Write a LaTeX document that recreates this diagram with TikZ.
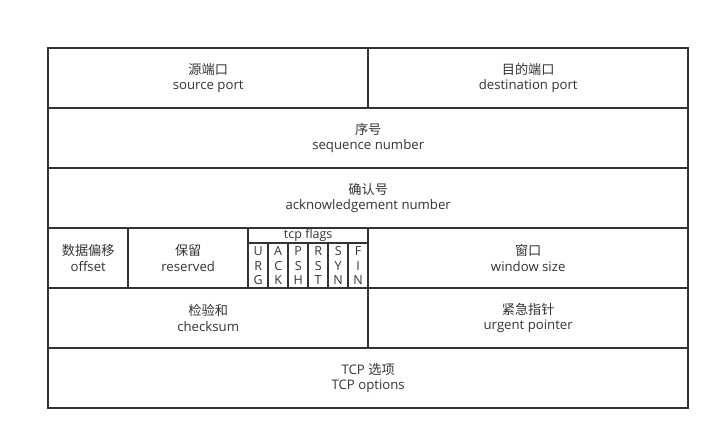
\documentclass[tikz,border=0pt]{standalone}
\usepackage{fontspec}
\setmainfont{Open Sans}
\newfontfamily\cjk{Noto Sans CJK SC}
\definecolor{ln}{HTML}{333333}
\begin{document}
\begin{tikzpicture}[x=1pt,y=-1pt,
 cell/.style={draw=ln, line width=1.6pt, inner sep=0pt, anchor=north west, align=center, text=ln, font=\fontsize{13.2}{15.5}\selectfont},
 flag/.style={cell, minimum width=20pt, minimum height=45pt, font=\fontsize{12.5}{14.5}\selectfont},
]
\useasboundingbox (0.6,0.6) rectangle (720.6,440.6);
\node[cell, minimum width=320pt, minimum height=60pt] (src) at (48,48) {{\cjk 源端口}\\source port};
\node[cell, minimum width=320pt, minimum height=60pt] (dst) at (368,48) {{\cjk 目的端口}\\destination port};
\node[cell, minimum width=640pt, minimum height=60pt] (seq) at (48,108) {{\cjk 序号}\\sequence number};
\node[cell, minimum width=640pt, minimum height=60pt] (ack) at (48,168) {{\cjk 确认号}\\acknowledgement number};
\node[cell, minimum width=80pt, minimum height=60pt] (off) at (48,228) {{\cjk 数据偏移}\\offset};
\node[cell, minimum width=120pt, minimum height=60pt] (res) at (128,228) {{\cjk 保留}\\reserved};
\node[cell, minimum width=120pt, minimum height=15pt, font=\fontsize{12.5}{14}\selectfont] (flags) at (248,228) {tcp flags};
\node[flag] (urg) at (248,243) {U\\R\\G};
\node[flag] (fack) at (268,243) {A\\C\\K};
\node[flag] (psh) at (288,243) {P\\S\\H};
\node[flag] (rst) at (308,243) {R\\S\\T};
\node[flag] (syn) at (328,243) {S\\Y\\N};
\node[flag] (fin) at (348,243) {F\\I\\N};
\node[cell, minimum width=320pt, minimum height=60pt] (win) at (368,228) {{\cjk 窗口}\\window size};
\node[cell, minimum width=320pt, minimum height=60pt] (chk) at (48,288) {{\cjk 检验和}\\checksum};
\node[cell, minimum width=320pt, minimum height=60pt] (urp) at (368,288) {{\cjk 紧急指针}\\urgent pointer};
\node[cell, minimum width=640pt, minimum height=60pt] (opt) at (48,348) {TCP {\cjk 选项}\\TCP options};
\end{tikzpicture}
\end{document}
